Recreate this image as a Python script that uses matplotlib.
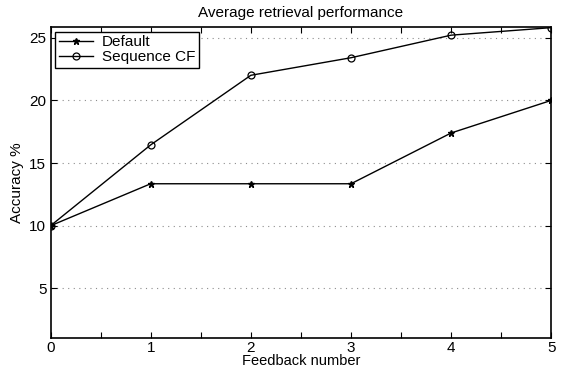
import numpy as np
import matplotlib.pyplot as plt

plt.rcParams['font.family'] = ['Liberation Sans', 'DejaVu Sans']

feedback = [0, 1, 2, 3, 4, 5]
default_acc = [10.0, 13.35, 13.35, 13.35, 17.4, 20.0]
seqcf_acc = [10.0, 16.45, 22.0, 23.4, 25.2, 25.8]
yticks = [5, 10, 15, 20, 25]

fig = plt.figure(figsize=(5.62, 3.70), dpi=100)
ax = fig.add_axes([0.0899, 0.0865, 0.8911, 0.8405])

ax.plot(feedback, default_acc, color='black', lw=1, marker='*', ms=5,
        label='Default')
ax.plot(feedback, seqcf_acc, color='black', lw=1, marker='o', ms=5,
        mfc='none', mew=0.9, label='Sequence CF')

ax.set_xlim(0, 5)
ax.set_ylim(1.05, 25.85)
ax.set_xticks(np.arange(0, 5.01, 0.5))
ax.set_xticklabels([str(int(v)) if v == int(v) else '' for v in np.arange(0, 5.01, 0.5)])
ax.set_yticks(yticks)
ax.tick_params(direction='in', top=True, right=True, length=4, width=0.8,
               labelsize=11)
ax.tick_params(axis='x', pad=2.5)
ax.tick_params(axis='y', pad=3)
ax.yaxis.grid(True, linestyle=(0, (1, 4)), color='0.55', lw=0.8)
ax.set_axisbelow(True)
for s in ax.spines.values():
    s.set_linewidth(1.2)

ax.set_title('Average retrieval performance', fontsize=11, pad=7)
ax.set_xlabel('Feedback number', fontsize=10.5, labelpad=-1)
ax.set_ylabel('Accuracy %', fontsize=11, labelpad=4)

leg = ax.legend(loc='upper left', fontsize=11, fancybox=False, framealpha=1,
                edgecolor='black', borderaxespad=0.3, handlelength=2.2,
                borderpad=0.25, labelspacing=0.05, handletextpad=0.6)
leg.get_frame().set_linewidth(1)

fig.savefig('out.png', dpi=100)
